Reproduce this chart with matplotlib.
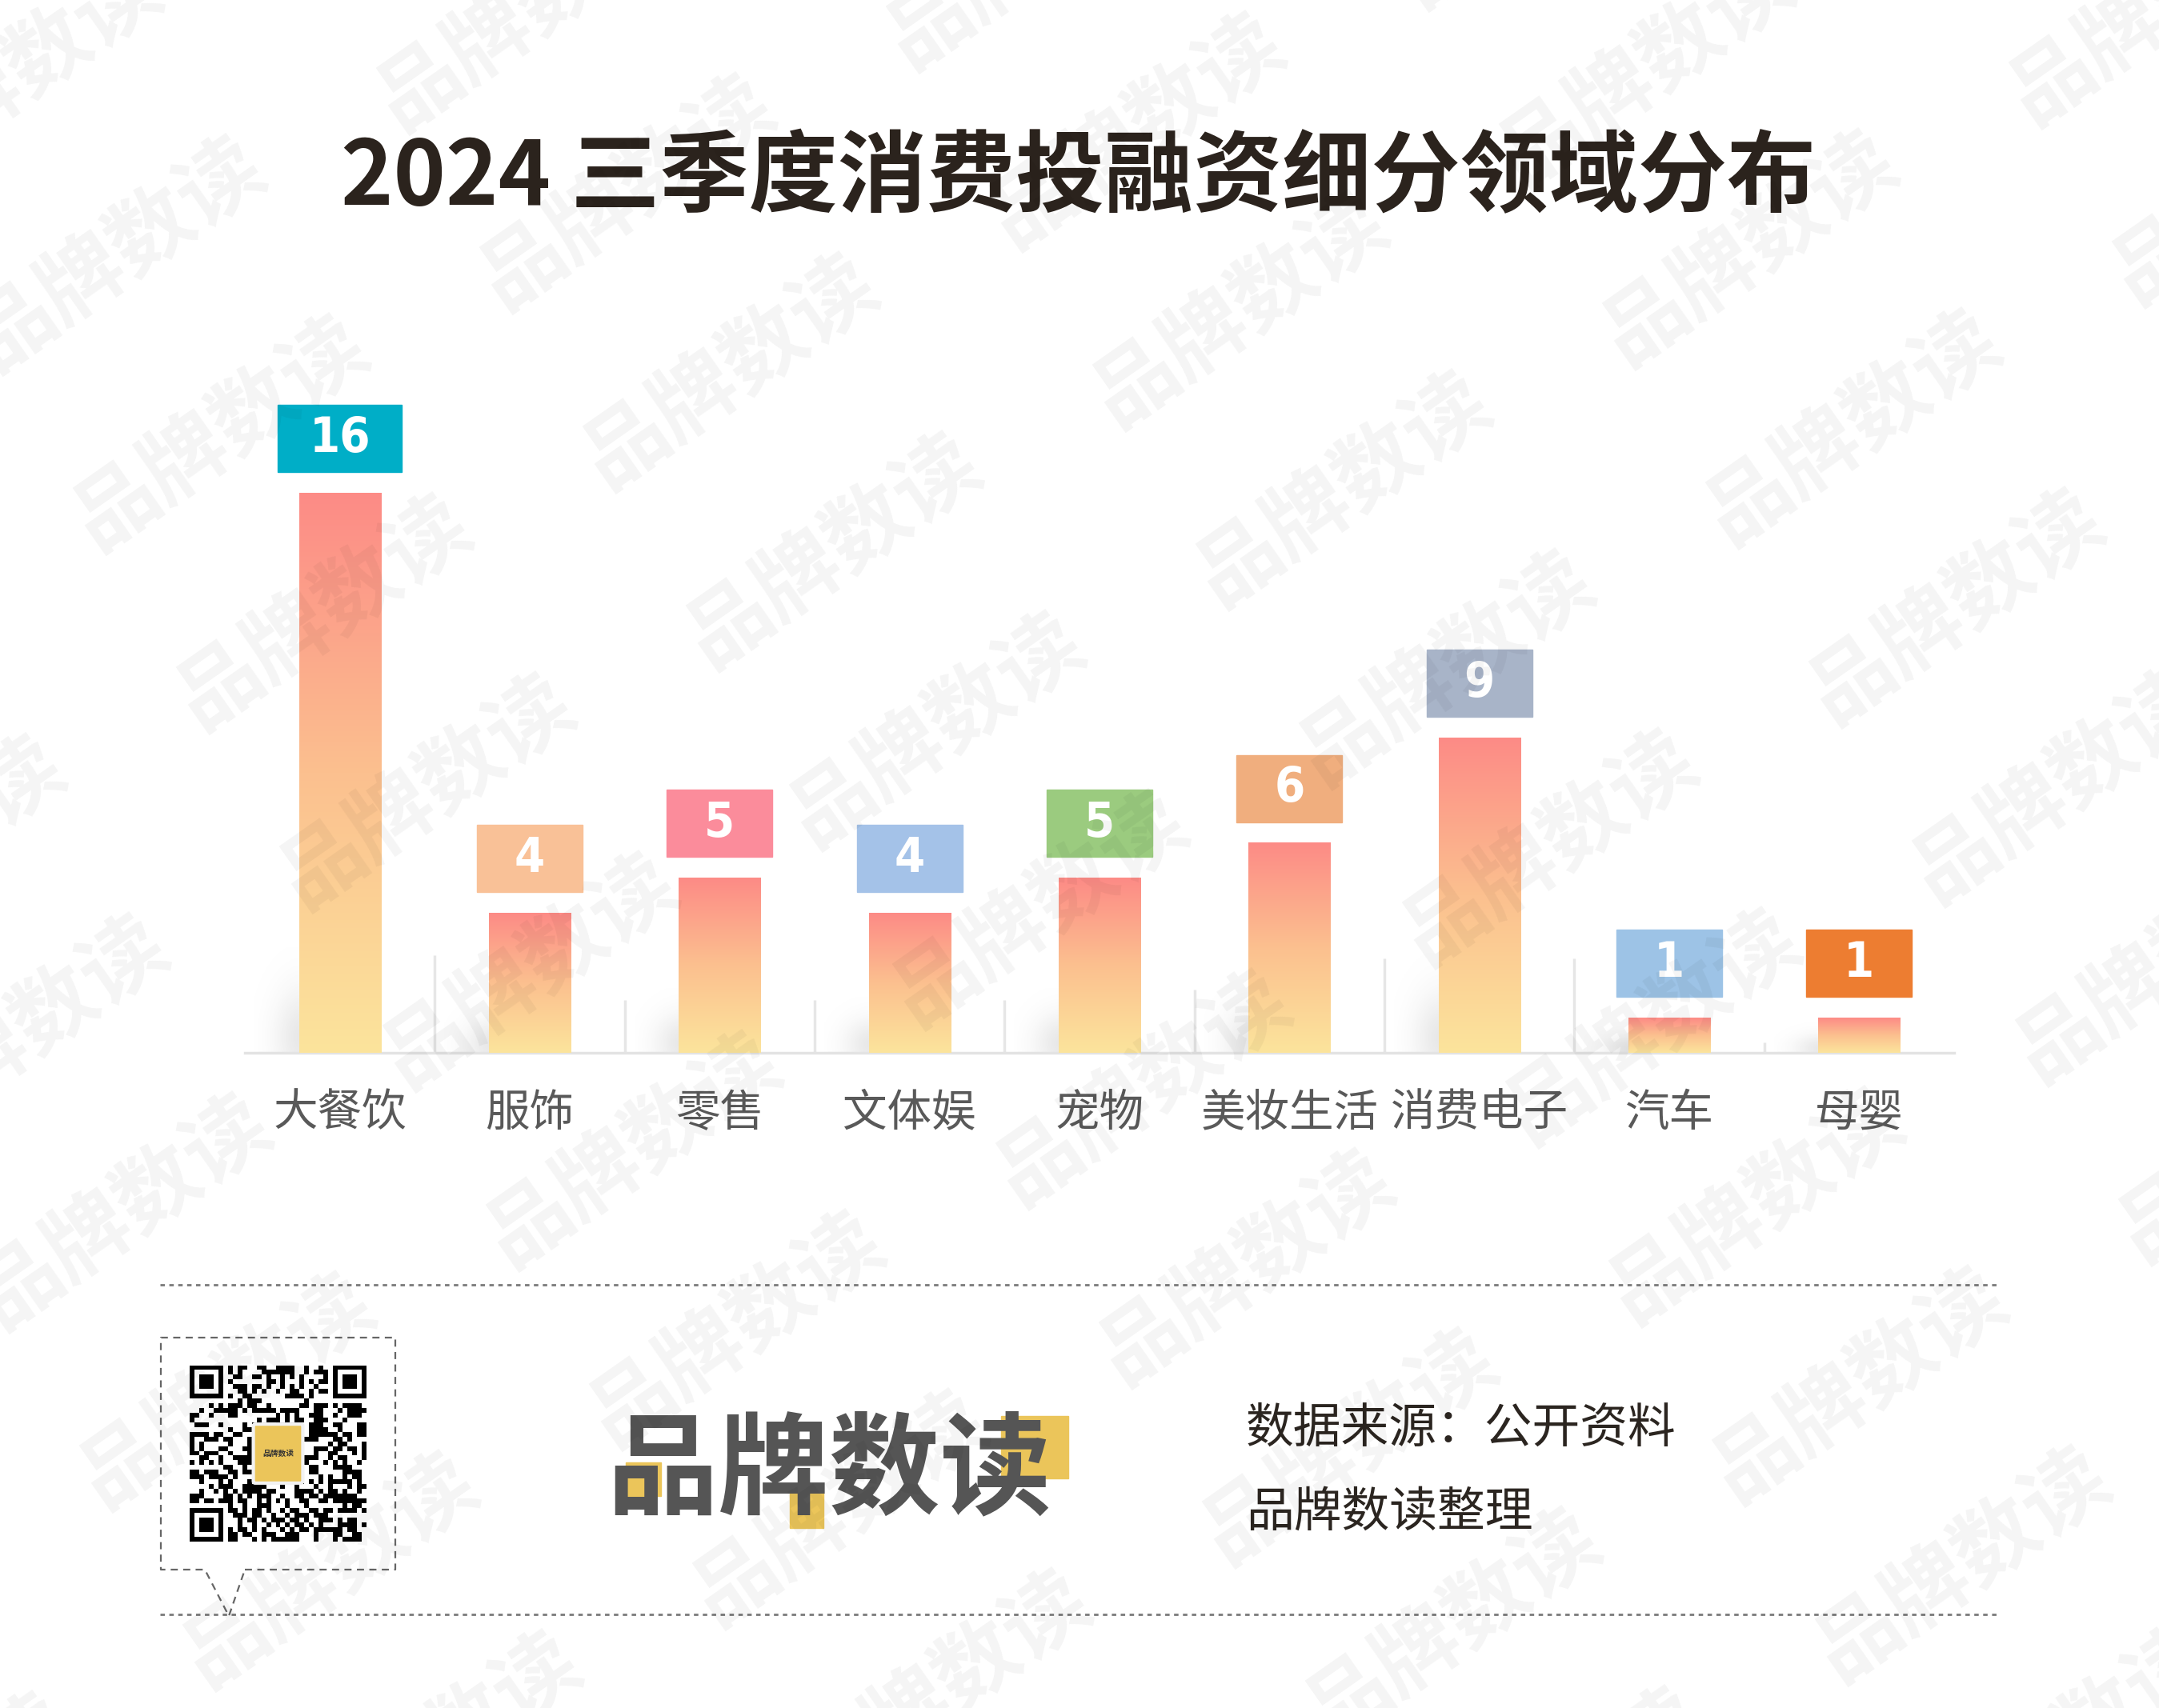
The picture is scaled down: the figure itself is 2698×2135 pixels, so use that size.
import hashlib
import numpy as np
import matplotlib
matplotlib.use("Agg")
import matplotlib.pyplot as plt
from matplotlib.colors import LinearSegmentedColormap
from matplotlib.patches import Rectangle, FancyBboxPatch

plt.rcParams['font.family'] = ['Noto Sans CJK SC', 'DejaVu Sans']

# data
title = "2024 三季度消费投融资细分领域分布"
categories = ["大餐饮", "服饰", "零售", "文体娱", "宠物", "美妆生活", "消费电子", "汽车", "母婴"]
counts = [16, 4, 5, 4, 5, 6, 9, 1, 1]
box_colors = ["#00AEC7", "#F9C197", "#FB8C9B", "#A4C2E8", "#9BCB7F",
              "#F0AE7E", "#A8B4C8", "#9DC3E6", "#ED7D31"]
source_lines = ["数据来源：公开资料", "品牌数读整理"]
brand = "品牌数读"

W, H = 2698, 2135
fig = plt.figure(figsize=(W / 100, H / 100), dpi=100)
fig.patch.set_facecolor("white")

# background layer in pixel coords
bg = fig.add_axes([0, 0, 1, 1], zorder=0)
bg.set_xlim(0, W)
bg.set_ylim(H, 0)
bg.axis("off")

bg.text(1348, 224, title, fontsize=80, weight="bold", color="#2B231D",
        ha="center", va="center")

# main chart
ax = fig.add_axes([306 / W, 1 - 1316 / H, 2136 / W, 875 / H], zorder=1)
ax.patch.set_alpha(0)
x = np.arange(len(categories))
bars = ax.bar(x, counts, width=0.43, color="none", zorder=3)

cmap = LinearSegmentedColormap.from_list("g", ["#FCE49C", "#FBC08F", "#FD8B86"])
grad = np.linspace(0, 1, 256).reshape(-1, 1)
for b in bars:
    x0, w, h = b.get_x(), b.get_width(), b.get_height()
    ax.imshow(grad, extent=[x0, x0 + w, 0, h], origin="lower", aspect="auto",
              cmap=cmap, zorder=3)

# soft shadows at the base
sy, sx = np.mgrid[0:1:120j, 0:1:120j]
blob = np.exp(-(((sx - 0.5) / 0.28) ** 2 + ((sy - 0.15) / 0.45) ** 2))
shadow = np.zeros((120, 120, 4))
shadow[..., :3] = 0.55
shadow[..., 3] = 0.2 * blob
for i, v in enumerate(counts):
    hgt = min(0.25 * v + 0.6, 3.0)
    ax.imshow(shadow, extent=[i - 0.45, i + 0.05, 0, hgt], origin="lower",
              aspect="auto", zorder=2)

# small dividers between categories
for i in range(len(counts) - 1):
    dh = min(0.3 * max(counts[i], counts[i + 1]), 2.8)
    ax.vlines(i + 0.5, 0, dh, color="#E6E6E6", lw=2.5, zorder=1)

# value boxes
for i, v in enumerate(counts):
    bw = 0.653 if v >= 10 else 0.556
    ax.add_patch(Rectangle((i - bw / 2, v + 0.59), bw, 1.92, color=box_colors[i],
                           zorder=4))
    ax.text(i, v + 0.59 + 0.96, str(v), fontsize=44, weight="bold", color="white",
            family="DejaVu Sans", fontstretch="condensed",
            ha="center", va="center", zorder=5)

ax.set_xlim(-0.5, len(categories) - 0.5)
ax.set_ylim(0, 20)
ax.set_xticks(x, categories, fontsize=40, color="#595959")
ax.tick_params(axis="x", length=0, pad=34)
ax.set_yticks([])
for s in ["top", "right", "left"]:
    ax.spines[s].set_visible(False)
ax.spines["bottom"].set_color("#E3E3E3")
ax.spines["bottom"].set_linewidth(2.5)

# footer
for yy in (1606, 2018):
    bg.plot([200, 2495], [yy, yy], color="#7A7A7A", lw=2, ls=(0, (2, 2)))

bx = [306, 494, 494, 201, 201, 256, 286, 306]
by = [1962, 1962, 1672, 1672, 1962, 1962, 2020, 1962]
bg.plot(bx, by, color="#666666", lw=1.6, ls=(0, (4, 3)))

# qr-like pattern
n = 37
bits = "".join(format(b, "08b") for k in range(6)
               for b in hashlib.sha256((brand + str(k)).encode()).digest())
qr = np.array([int(c) for c in bits[: n * n]]).reshape(n, n)
for r0, c0 in [(0, 0), (0, n - 7), (n - 7, 0)]:
    qr[max(r0 - 1, 0):r0 + 8, max(c0 - 1, 0):c0 + 8] = 0
    qr[r0:r0 + 7, c0:c0 + 7] = 1
    qr[r0 + 1:r0 + 6, c0 + 1:c0 + 6] = 0
    qr[r0 + 2:r0 + 5, c0 + 2:c0 + 5] = 1
qa = fig.add_axes([237 / W, 1 - 1927 / H, 221 / W, 220 / H], zorder=1)
qa.imshow(qr, cmap="gray_r", interpolation="nearest")
qa.axis("off")
qa.add_patch(FancyBboxPatch((13.2, 12.2), 9.6, 11.6, boxstyle="round,pad=0.4",
                            fc="#EBC55A", ec="#F2F2F2", lw=3))
qa.text(18, 18, brand, fontsize=7, weight="bold", color="#333333",
        ha="center", va="center")

# brand logo
for rx, ry, rw, rh in [(782, 1828, 44, 42), (987, 1866, 42, 44), (1251, 1770, 84, 78)]:
    bg.add_patch(Rectangle((rx, ry), rw, rh, color="#EBC55A", zorder=1))
bg.text(1036, 1841, brand, fontsize=100, weight="heavy", color="#555555",
        ha="center", va="center", zorder=2)

for k, line in enumerate(source_lines):
    bg.text(1557, 1786 + k * 105, line, fontsize=43, color="#2B2520",
            ha="left", va="center")

# watermark on top
wm = fig.add_axes([0, 0, 1, 1], zorder=10)
wm.set_xlim(0, W)
wm.set_ylim(H, 0)
wm.axis("off")
for m in range(-8, 14):
    for q in range(-3, 8):
        px = 276 + m * 129 + q * 637
        py = 542 + m * 224 - q * 77
        if -300 < px < W + 300 and -300 < py < H + 300:
            wm.text(px, py, brand, rotation=35, fontsize=76, weight="bold",
                    color="#000000", alpha=0.045, ha="center", va="center")

fig.savefig("out.png", dpi=100, facecolor="white")
